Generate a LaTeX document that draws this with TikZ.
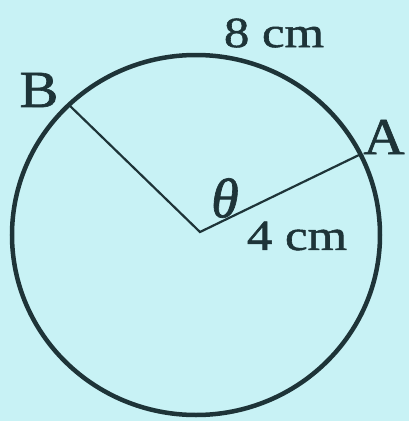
\documentclass[tikz,border=0pt]{standalone}
\usepackage{fontspec}
\setmainfont{Liberation Serif}
\newfontfamily\thickserif[FakeBold=1.2]{Liberation Serif}
\begin{document}
\begin{tikzpicture}[x=1pt,y=-1pt,
  lbl/.style={text=inkc,inner sep=0pt,font=\thickserif\fontsize{43}{43}\selectfont},
  pt/.style={text=inkc,inner sep=0pt,font=\thickserif\fontsize{52}{52}\selectfont}]
\definecolor{bgc}{RGB}{200,242,245}
\definecolor{inkc}{RGB}{30,52,56}
\fill[bgc] (0,0) rectangle (409,421);
\useasboundingbox (0,0) rectangle (409,421);
\coordinate (O) at (200,232);
\coordinate (A) at (359,155);
\coordinate (B) at (68,104);
\draw[inkc,line width=4.5pt] (196,235) ellipse [x radius=184, y radius=180];
\draw[inkc,line width=2.2pt,line join=miter] (B) -- (O) -- (A);
\node[pt] (lB) at (39,90) {\scalebox{1.12}[1]{B}};
\node[pt] (lA) at (384,137) {\scalebox{1.1}[1]{A}};
\node[lbl] (l8) at (274,33) {\scalebox{1.18}[1]{8 cm}};
\node[lbl] (l4) at (297,236) {\scalebox{1.18}[1]{4 cm}};
\node[text=inkc,inner sep=0pt,font=\thickserif\itshape\fontsize{56}{56}\selectfont] (th) at (225,198) {θ};
\end{tikzpicture}
\end{document}
